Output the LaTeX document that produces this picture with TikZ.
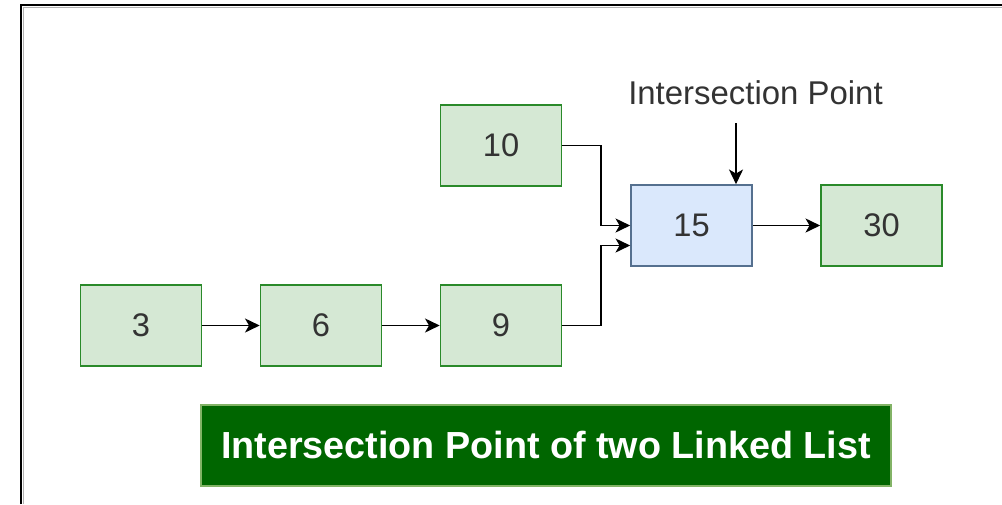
\documentclass[tikz,border=0pt]{standalone}
\usepackage{fontspec}
\setmainfont{Liberation Sans}
\usetikzlibrary{arrows.meta,calc}
\definecolor{gfill}{HTML}{D5E8D4}
\definecolor{gline}{HTML}{2A8A2A}
\definecolor{bfill}{HTML}{DAE8FC}
\definecolor{bline}{HTML}{55708F}
\definecolor{tfill}{HTML}{006600}
\definecolor{tline}{HTML}{82B366}
\definecolor{txt}{HTML}{333333}
\tikzset{
  x=0.75pt, y=-0.75pt,
  gbox/.style={draw=gline, fill=gfill, line width=1.2pt, minimum width=90.75pt, minimum height=60.75pt, inner sep=0pt, text=txt, font=\fontsize{24.5}{28}\selectfont},
  bbox/.style={gbox, draw=bline, fill=bfill},
  titlebox/.style={draw=tline, fill=tfill, line width=1pt, minimum width=517.5pt, minimum height=60.75pt, inner sep=0pt, text=white, font=\fontsize{28.3}{32}\selectfont\bfseries},
  lbl/.style={text=txt, inner sep=0pt, font=\fontsize{24.7}{28}\selectfont},
  arr/.style={draw=black, line width=1.4pt, -{Stealth[length=11pt, width=10.5pt, inset=3pt]}},
  frame/.style={line width=1.5pt, draw=black}
}
\begin{document}
\begin{tikzpicture}
\useasboundingbox (0,0) rectangle (1002,504);
\fill[white] (0,0) rectangle (1002,504);
% frame (left and top)
\draw[line width=1pt, draw=gray!60] (23.5,504) -- (23.5,7.5) -- (1002,7.5);
\draw[frame] (21,504) -- (21,5) -- (1002,5);
% nodes
\node[gbox] (n3) at (141,325.5) {3};
\node[gbox] (n6) at (321,325.5) {6};
\node[gbox] (n9) at (501,325.5) {9};
\node[gbox] (n10) at (501,145.5) {10};
\node[bbox] (n15) at (691.5,225.5) {15};
\node[gbox] (n30) at (881.5,225.5) {30};
\node[lbl] (ip) at (755.5,93) {Intersection Point};
\coordinate (ipa) at (736,123);
\node[titlebox] (title) at (546,445.5) {Intersection Point of two Linked List};
% connectors
\draw[arr] (n3) -- (n6);
\draw[arr] (n6) -- (n9);
\draw[arr] (n15) -- (n30);
\draw[arr] (n10.east) -- (601,145.5) |- (n15.west);
\draw[arr] (n9.east) -- (601,325.5) |- ($(n15.west)+(0,20)$);
\draw[arr] (ipa) -- (ipa |- n15.north);
\end{tikzpicture}
\end{document}
